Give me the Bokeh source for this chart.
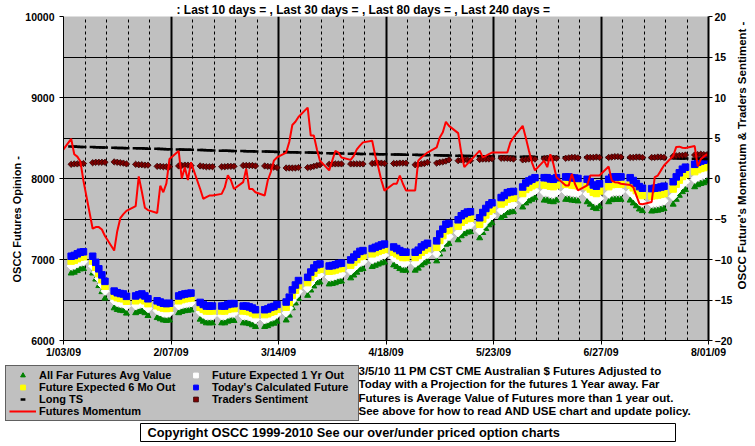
import numpy as np
import pandas as pd
from bokeh.plotting import figure
from bokeh.layouts import column, row
from bokeh.models import (ColumnDataSource, Range1d, LinearAxis, FixedTicker, Grid,
                          Label, Legend, LegendItem, CustomJSTickFormatter, Title)
from bokeh.embed import file_html
from bokeh.resources import INLINE

FONT = "Liberation Sans"

# ---------------- data ----------------
x_tick_labels = ["1/03/09", "2/07/09", "3/14/09", "4/18/09", "5/23/09", "6/27/09", "8/01/09"]
left_ticks = [6000, 7000, 8000, 9000, 10000]
left_grid = [6500, 7000, 7500, 8000, 8500, 9000, 9500]
right_ticks = [-20, -15, -10, -5, 0, 5, 10, 15, 20]

# Today's Calculated Future (blue squares), one value per trading day 1/05/09 .. 7/31/09
today_calc = [
    7040, 7050, 7070, 7090, 7095,
    7040, 6965, 6885, 6810, 6730,
    6610, 6590, 6580, 6575, 6545,
    6550, 6565, 6575, 6550, 6515,
    6490, 6475, 6460, 6455, 6460,
    6550, 6565, 6575, 6580, 6585,
    6470, 6445, 6425, 6425, 6425,
    6425, 6425, 6445, 6455, 6455,
    6425, 6425, 6415, 6400, 6380,
    6380, 6390, 6410, 6420, 6445,
    6475, 6535, 6625, 6685, 6740,
    6780, 6845, 6895, 6935, 6945,
    6920, 6925, 6935, 6950, 6955,
    6995, 7030, 7065, 7100, 7110,
    7135, 7150, 7165, 7180, 7190,
    7155, 7135, 7110, 7090, 7090,
    7090, 7115, 7155, 7180, 7200,
    7230, 7315, 7375, 7435, 7445,
    7490, 7540, 7565, 7585, 7590,
    7515, 7580, 7630, 7675, 7700,
    7765, 7790, 7825, 7835, 7840,
    7895, 7945, 7970, 7990, 8010,
    8010, 8010, 7995, 7990, 8010,
    8020, 8020, 8010, 8005, 8000,
    7990, 7960, 7920, 7905, 7935,
    7990, 8015, 8020, 8020, 8020,
    8010, 7975, 7940, 7900, 7880,
    7875, 7880, 7885, 7895, 7905,
    7960, 8020, 8070, 8115, 8140,
    8175, 8200, 8215, 8225, 8245,
]

# Future Expected 6 Mo Out (yellow squares)
expected_6mo = [
    6980, 6990, 7010, 7030, 7035,
    6980, 6905, 6825, 6750, 6670,
    6550, 6530, 6520, 6515, 6485,
    6490, 6505, 6515, 6490, 6455,
    6430, 6415, 6400, 6395, 6400,
    6490, 6505, 6515, 6520, 6525,
    6410, 6385, 6365, 6365, 6365,
    6365, 6365, 6385, 6395, 6395,
    6365, 6365, 6355, 6340, 6320,
    6320, 6330, 6350, 6360, 6385,
    6410, 6470, 6560, 6620, 6675,
    6715, 6780, 6830, 6870, 6880,
    6855, 6860, 6870, 6885, 6890,
    6930, 6965, 7000, 7035, 7045,
    7070, 7085, 7100, 7115, 7125,
    7090, 7070, 7045, 7025, 7025,
    7025, 7050, 7090, 7115, 7135,
    7150, 7235, 7295, 7355, 7365,
    7410, 7460, 7485, 7505, 7510,
    7435, 7500, 7550, 7595, 7620,
    7685, 7710, 7745, 7755, 7760,
    7815, 7865, 7890, 7910, 7930,
    7920, 7920, 7905, 7900, 7920,
    7930, 7930, 7920, 7915, 7910,
    7900, 7870, 7830, 7815, 7845,
    7900, 7925, 7930, 7930, 7930,
    7920, 7885, 7850, 7810, 7790,
    7785, 7790, 7795, 7805, 7815,
    7870, 7930, 7980, 8025, 8050,
    8085, 8110, 8125, 8135, 8155,
]

# Future Expected 1 Yr Out (white diamonds)
expected_1yr = [
    6920, 6930, 6950, 6970, 6975,
    6920, 6845, 6765, 6690, 6610,
    6490, 6470, 6460, 6455, 6425,
    6430, 6445, 6455, 6430, 6395,
    6370, 6355, 6340, 6335, 6340,
    6430, 6445, 6455, 6460, 6465,
    6350, 6325, 6305, 6305, 6305,
    6305, 6305, 6325, 6335, 6335,
    6305, 6305, 6295, 6280, 6260,
    6260, 6270, 6290, 6300, 6325,
    6340, 6400, 6490, 6550, 6605,
    6645, 6710, 6760, 6800, 6810,
    6785, 6790, 6800, 6815, 6820,
    6860, 6895, 6930, 6965, 6975,
    7000, 7015, 7030, 7045, 7055,
    7020, 7000, 6975, 6955, 6955,
    6955, 6980, 7020, 7045, 7065,
    7070, 7155, 7215, 7275, 7285,
    7330, 7380, 7405, 7425, 7430,
    7355, 7420, 7470, 7515, 7540,
    7605, 7630, 7665, 7675, 7680,
    7735, 7785, 7810, 7830, 7850,
    7830, 7830, 7815, 7810, 7830,
    7840, 7840, 7830, 7825, 7820,
    7810, 7780, 7740, 7725, 7755,
    7810, 7835, 7840, 7840, 7840,
    7830, 7795, 7760, 7720, 7700,
    7695, 7700, 7705, 7715, 7725,
    7780, 7840, 7890, 7935, 7960,
    7995, 8020, 8035, 8045, 8065,
]

# All Far Futures Avg Value (green triangles)
far_futures_avg = [
    6830, 6840, 6860, 6880, 6885,
    6830, 6755, 6675, 6600, 6520,
    6400, 6380, 6370, 6365, 6335,
    6340, 6355, 6365, 6340, 6305,
    6280, 6265, 6250, 6245, 6250,
    6340, 6355, 6365, 6370, 6375,
    6260, 6235, 6215, 6215, 6215,
    6215, 6215, 6235, 6245, 6245,
    6215, 6215, 6205, 6190, 6170,
    6170, 6180, 6200, 6210, 6235,
    6250, 6310, 6400, 6460, 6515,
    6555, 6620, 6670, 6710, 6720,
    6695, 6700, 6710, 6725, 6730,
    6770, 6805, 6840, 6875, 6885,
    6910, 6925, 6940, 6955, 6965,
    6930, 6910, 6885, 6865, 6865,
    6865, 6890, 6930, 6955, 6975,
    6980, 7065, 7125, 7185, 7195,
    7240, 7290, 7315, 7335, 7340,
    7265, 7330, 7380, 7425, 7450,
    7515, 7540, 7575, 7585, 7590,
    7645, 7695, 7720, 7740, 7760,
    7730, 7730, 7715, 7710, 7730,
    7740, 7740, 7730, 7725, 7720,
    7710, 7680, 7640, 7625, 7655,
    7710, 7735, 7740, 7740, 7740,
    7730, 7695, 7660, 7620, 7600,
    7595, 7600, 7605, 7615, 7625,
    7680, 7740, 7790, 7835, 7860,
    7895, 7920, 7935, 7945, 7965,
]

# Long TS (black dashes)
long_ts = [
    8395, 8395, 8393, 8390, 8390,
    8388, 8386, 8385, 8383, 8382,
    8380, 8378, 8377, 8376, 8375,
    8374, 8373, 8372, 8370, 8368,
    8366, 8365, 8364, 8362, 8360,
    8358, 8357, 8356, 8355, 8354,
    8352, 8351, 8350, 8348, 8346,
    8344, 8343, 8342, 8341, 8340,
    8338, 8337, 8336, 8335, 8334,
    8333, 8332, 8331, 8330, 8328,
    8326, 8325, 8324, 8323, 8322,
    8321, 8320, 8319, 8317, 8315,
    8313, 8312, 8311, 8310, 8309,
    8307, 8306, 8305, 8304, 8303,
    8302, 8301, 8300, 8299, 8298,
    8297, 8296, 8295, 8294, 8293,
    8292, 8291, 8290, 8289, 8288,
    8287, 8286, 8285, 8284, 8283,
    8281, 8280, 8279, 8278, 8277,
    8276, 8275, 8274, 8273, 8272,
    8271, 8270, 8270, 8269, 8269,
    8268, 8268, 8267, 8267, 8266,
    8266, 8265, 8265, 8264, 8264,
    8263, 8263, 8262, 8262, 8261,
    8261, 8260, 8260, 8259, 8259,
    8258, 8258, 8257, 8257, 8256,
    8256, 8255, 8255, 8254, 8254,
    8253, 8253, 8252, 8252, 8251,
    8250, 8249, 8248, 8247, 8246,
    8245, 8244, 8243, 8242, 8240,
]

# Traders Sentiment (dark red diamonds, right axis)
traders_sentiment = [
    1.75, 1.8, 1.8, 1.85, 1.85,
    1.95, 2.0, 2.0, 2.0, 2.0,
    2.05, 2.0, 1.95, 1.9, 1.8,
    1.75, 1.7, 1.7, 1.65, 1.65,
    1.5, 1.5, 1.45, 1.45, 1.45,
    1.55, 1.6, 1.65, 1.65, 1.6,
    1.55, 1.5, 1.45, 1.45, 1.45,
    1.45, 1.45, 1.5, 1.5, 1.5,
    1.6, 1.6, 1.6, 1.6, 1.55,
    1.55, 1.5, 1.45, 1.4, 1.35,
    1.3, 1.3, 1.3, 1.3, 1.35,
    1.35, 1.4, 1.5, 1.6, 1.7,
    1.75, 1.8, 1.8, 1.8, 1.8,
    1.8, 1.8, 1.8, 1.8, 1.8,
    1.85, 1.9, 1.9, 1.9, 1.85,
    1.85, 1.85, 1.9, 1.9, 1.9,
    1.7, 1.75, 1.8, 1.85, 2.0,
    1.9, 2.0, 2.05, 2.15, 2.3,
    2.2, 2.3, 2.3, 2.3, 2.2,
    2.35, 2.4, 2.4, 2.4, 2.45,
    2.5, 2.5, 2.5, 2.45, 2.4,
    2.3, 2.35, 2.4, 2.45, 2.4,
    2.45, 2.5, 2.55, 2.5, 2.5,
    2.5, 2.55, 2.6, 2.6, 2.55,
    2.6, 2.6, 2.6, 2.65, 2.6,
    2.6, 2.65, 2.7, 2.7, 2.65,
    2.6, 2.6, 2.65, 2.65, 2.6,
    2.6, 2.6, 2.65, 2.65, 2.6,
    2.75, 2.8, 2.85, 2.85, 2.9,
    2.9, 2.95, 3.0, 2.95, 2.95,
]

# Futures Momentum (red line, right axis); first value is 1/02/09
momentum_start = 3.35
momentum = [
    4.9, 3.0, 2.7, 2.1, -0.3,
    -6.2, -6.0, -6.0, -6.3, -7.1,
    -8.9, -6.5, -4.9, -4.4, -4.0,
    -3.4, 0.25, -1.6, -3.6, -3.9,
    -4.25, -0.9, -1.7, -0.6, 2.4,
    3.4, 0.0, 1.4, -0.2, 2.0,
    -1.3, -2.5, -2.3, -2.1, -2.1,
    -1.9, -1.1, 0.4, -0.2, -1.3,
    -0.45, 1.2, -1.3, -1.3, -1.7,
    -2.1, -0.25, 0.8, 2.2, 2.6,
    3.2, 4.5, 6.6, 7.0, 7.6,
    8.75, 5.3, 5.3, 3.6, 2.2,
    1.0, 2.2, 3.4, 3.2, 2.6,
    2.3, 2.8, 3.6, 4.05, 4.46,
    4.67, 2.8, 1.4, -0.25, -1.5,
    -0.65, -0.65, 0.37, -0.65, -1.47,
    -1.47, 2.2, 2.6, 2.9, 3.2,
    3.84, 5.07, 5.7, 7.0, 6.5,
    5.6, 3.2, 1.4, 1.8, 2.2,
    3.44, 2.6, 2.8, 3.0, 3.2,
    3.2, 3.2, 3.2, 4.46, 5.07,
    6.5, 5.07, 3.5, 2.0, 1.0,
    2.2, 1.4, 3.0, 1.8, 0.16,
    -0.86, -0.86, 0.57, -0.65, -1.47,
    -0.86, 0.37, 0.37, 0.37, 0.37,
    1.47, -0.25, -0.45, -0.5, -0.65,
    -0.8, -1.06, -2.09, -3.11, -3.19,
    -2.9, 0.16, 0.37, 1.0, 1.6,
    2.8, 3.9, 3.93, 3.8, 3.76,
    4.0, 1.5, 2.4, 2.7, 3.0,
]

title_text = ": Last 10 days = , Last 30 days = , Last 80 days = , Last 240 days ="
left_title = "OSCC Futures Opinion -"
right_title = "OSCC Future's Momentum & Traders Sentiment -"
legend_labels = ["All Far Futures Avg Value", "Future Expected 6 Mo Out", "Long TS",
                 "Futures Momentum", "Future Expected 1 Yr Out",
                 "Today's Calculated Future", "Traders Sentiment"]
note_lines = [
    "3/5/10 11 PM CST CME Australian $  Futures Adjusted to",
    "Today with a Projection for the futures 1 Year away. Far",
    "Futures is Average Value of Futures more than 1 year out.",
    "See above for how to read AND USE chart and update policy.",
]
copyright_text = "Copyright OSCC 1999-2010 See our over/under priced option charts"

# ---------------- dates ----------------
# Excel date axis centres each daily point in the middle of its day
dates = pd.bdate_range("2009-01-05", "2009-07-31") + pd.Timedelta(hours=12)
mom_dates = [pd.Timestamp("2009-01-02 12:00")] + list(dates)
mom_vals = [momentum_start] + momentum

major_dates = pd.to_datetime(x_tick_labels, format="%m/%d/%y")
major_ms = [int(d.value // 10**6) for d in major_dates]
weeks = pd.date_range(major_dates[0], major_dates[-1], freq="7D")
week_ms = [int(d.value // 10**6) for d in weeks]
minor_week_ms = [m for m in week_ms if m not in major_ms]

src = ColumnDataSource(dict(date=dates, far=far_futures_avg, yr1=expected_1yr,
                            mo6=expected_6mo, today=today_calc, lts=long_ts,
                            trd=traders_sentiment))

# ---------------- styles ----------------
STY_FAR = dict(marker="triangle", size=6, fill_color="#008000", line_color="#008000")
STY_1YR = dict(marker="square", angle=np.pi / 4, size=6, fill_color="white", line_color="white")
STY_6MO = dict(marker="square", size=6.5, fill_color="#FFFF00", line_color="#FFFF00")
STY_TODAY = dict(marker="square", size=6.5, fill_color="#0000FF", line_color="#0000FF")
STY_LTS = dict(marker="dash", size=6, line_color="black", line_width=2.5)
STY_TRD = dict(marker="square", angle=np.pi / 4, size=4.5, fill_color="#800000",
               line_color="#300000", line_width=0.8)
STY_MOM = dict(line_color="#FF0000", line_width=2)

# ---------------- main chart ----------------
p = figure(width=735, height=360, x_axis_type="datetime",
           x_range=Range1d(major_ms[0], major_ms[-1]), y_range=Range1d(6000, 10000),
           output_backend="svg", toolbar_location=None,
           min_border_left=63, min_border_right=24, min_border_top=15, min_border_bottom=18)
p.frame_align = False
p.extra_y_ranges = {"right": Range1d(-20, 20)}
p.background_fill_color = "#C0C0C0"
p.border_fill_color = "white"
p.outline_line_color = None
p.grid.visible = False

p.title.text = title_text
p.title.align = "left"
p.title.offset = 113
p.title.standoff = 0
p.title.text_font = FONT
p.title.text_font_style = "bold"
p.title.text_font_size = "12px"
p.title.text_color = "black"

p.add_layout(Title(text=left_title, align="left", offset=58, standoff=0,
                   text_font=FONT, text_font_style="bold", text_font_size="11px",
                   text_color="black"), "left")

p.add_layout(Grid(dimension=1, ticker=FixedTicker(ticks=left_grid),
                  grid_line_color="black", grid_line_width=1))
p.add_layout(Grid(dimension=0, ticker=FixedTicker(ticks=minor_week_ms),
                  grid_line_color="black", grid_line_width=1, grid_line_dash="3 3"))
p.add_layout(Grid(dimension=0, ticker=FixedTicker(ticks=major_ms[1:-1]),
                  grid_line_color="black", grid_line_width=2))

xa = p.xaxis[0]
ya = p.yaxis[0]
xa.ticker = FixedTicker(ticks=major_ms)
xa.formatter = CustomJSTickFormatter(args=dict(tvals=major_ms, tlabs=x_tick_labels),
                                     code="const i = tvals.indexOf(tick); return i >= 0 ? tlabs[i] : '';")
ya.ticker = FixedTicker(ticks=left_ticks)
ra = LinearAxis(y_range_name="right", ticker=FixedTicker(ticks=right_ticks))
p.add_layout(ra, "right")

for ax in (xa, ya, ra):
    ax.axis_line_color = "black"
    ax.axis_line_width = 1
    ax.major_tick_line_color = "black"
    ax.major_tick_out = 4
    ax.major_tick_in = 0
    ax.minor_tick_out = 0
    ax.minor_tick_in = 0
    ax.major_label_text_font = FONT
    ax.major_label_text_font_style = "bold"
    ax.major_label_text_font_size = "10.5px"
    ax.major_label_text_color = "black"
xa.major_label_standoff = 1
ya.major_label_standoff = 5
ra.major_label_standoff = 2
ra.axis_line_width = 2

r_far = p.scatter("date", "far", source=src, **STY_FAR)
r_1yr = p.scatter("date", "yr1", source=src, **STY_1YR)
r_6mo = p.scatter("date", "mo6", source=src, **STY_6MO)
r_today = p.scatter("date", "today", source=src, **STY_TODAY)
r_lts = p.scatter("date", "lts", source=src, **STY_LTS)
r_trd = p.scatter("date", "trd", source=src, y_range_name="right", **STY_TRD)
r_mom = p.line(mom_dates, mom_vals, y_range_name="right", **STY_MOM)

# ---------------- right-hand axis title strip (page-pixel coordinates) ----------------
rt = figure(width=20, height=360, x_range=Range1d(735, 755), y_range=Range1d(360, 0),
            x_axis_location=None, y_axis_location=None,
            output_backend="svg", toolbar_location=None, min_border=0)
rt.frame_align = False
rt.outline_line_color = None
rt.grid.visible = False
rt.background_fill_color = "white"
rt.border_fill_color = "white"
rt.add_layout(Label(x=741.5, y=155, text=right_title, angle=np.pi / 2, text_align="center",
                    text_baseline="middle", text_font=FONT, text_font_style="bold",
                    text_font_size="11.5px", text_color="black"))

# ---------------- legend / notes strip (page-pixel coordinates) ----------------
q = figure(width=755, height=86, x_range=Range1d(0, 755), y_range=Range1d(446, 360),
           x_axis_location=None, y_axis_location=None,
           output_backend="svg", toolbar_location=None, min_border=0)
q.frame_align = False
q.outline_line_color = None
q.grid.visible = False
q.background_fill_color = "white"
q.border_fill_color = "white"

# legend proxies (same styles as the chart series, placed off-view)
off = dict(x=[-100, -90], y=[-100, -100])
k_far = q.scatter(source=ColumnDataSource(off), x="x", y="y", **STY_FAR)
k_6mo = q.scatter(source=ColumnDataSource(off), x="x", y="y", **STY_6MO)
k_lts = q.scatter(source=ColumnDataSource(off), x="x", y="y", **STY_LTS)
k_mom = q.line(source=ColumnDataSource(off), x="x", y="y", **STY_MOM)
k_1yr = q.scatter(source=ColumnDataSource(off), x="x", y="y", **STY_1YR)
k_today = q.scatter(source=ColumnDataSource(off), x="x", y="y", **STY_TODAY)
k_trd = q.scatter(source=ColumnDataSource(off), x="x", y="y", **STY_TRD)

legend = Legend(items=[LegendItem(label=lab, renderers=[r]) for lab, r in zip(
    legend_labels, [k_far, k_6mo, k_lts, k_mom, k_1yr, k_today, k_trd])],
    location=(5, 25), ncols=2)
legend.label_text_font = FONT
legend.label_text_font_style = "bold"
legend.label_text_font_size = "11px"
legend.label_text_color = "black"
legend.glyph_width = 27
legend.glyph_height = 12
legend.label_height = 12
legend.label_width = 143
legend.label_standoff = 3
legend.spacing = 0
legend.padding = 3
legend.margin = 0
legend.background_fill_color = "#C0C0C0"
legend.background_fill_alpha = 1
legend.border_line_color = "black"
legend.border_line_width = 1
q.add_layout(legend)

q.add_layout(Label(x=358, y=364, text="\n".join(note_lines), text_align="left",
                   text_baseline="top", text_font=FONT, text_font_style="bold",
                   text_font_size="11.5px", text_line_height=1.13, text_color="black",
                   level="overlay"))

# copyright box and text
q.quad(left=[140], right=[675], top=[423], bottom=[441],
       fill_color="white", line_color="black", line_width=1)
q.add_layout(Label(x=147, y=432, text=copyright_text, text_align="left",
                   text_baseline="middle", text_font=FONT, text_font_style="bold",
                   text_font_size="12.8px", text_color="black", level="overlay"))

layout = column(row(p, rt, spacing=0), q, spacing=0)
open("out.html", "w").write(file_html(layout, INLINE))
